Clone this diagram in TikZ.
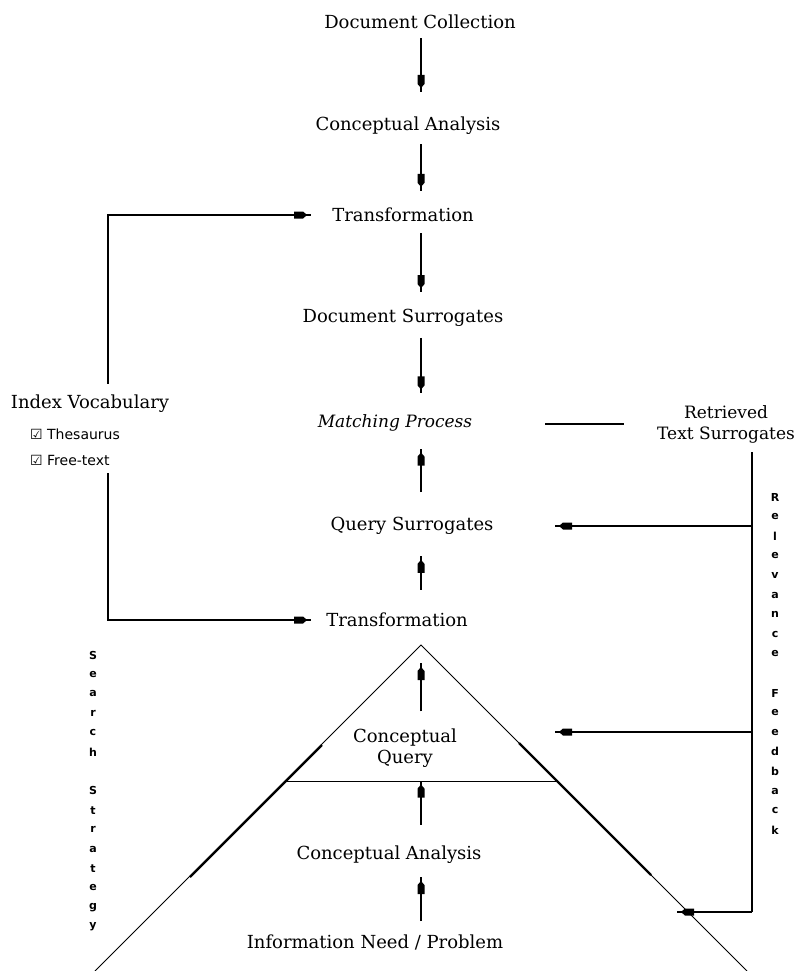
\documentclass[tikz,border=0pt]{standalone}
\usepackage{fontspec}
\setmainfont{DejaVu Serif}
\newfontfamily\lblfont{DejaVu Sans}
\usetikzlibrary{decorations.markings}

\begin{document}
\begin{tikzpicture}[x=1pt,y=-1pt]
%%%%%%%%%%%%%%%%%%%%%%%%%%%%%%%%%%%%%%%%%%%%%%%%%%%%%%%%
% STYLE
\tikzstyle{lbl}=[font=\fontsize{18}{21}\selectfont, inner sep=1pt, align=center]
\tikzstyle{ital}=[lbl, font=\fontsize{17}{21}\selectfont\itshape]
\tikzstyle{item}=[font=\lblfont\fontsize{14}{16}\selectfont, inner sep=0pt, anchor=west]
\tikzstyle{letter}=[font=\lblfont\bfseries\fontsize{11}{13}\selectfont, inner sep=0pt]

\tikzset{edge/.style={line width=1.4pt}}
\tikzset{link/.style={edge, postaction={decorate},
  decoration={markings, mark=at position -4pt with
    {\fill (-13pt,-3.5pt) -- (-4pt,-3.5pt) -- (0pt,0pt) -- (-4pt,3.5pt) -- (-13pt,3.5pt) -- cycle;}}}}
\tikzset{tri/.style={line width=0.9pt}}
\tikzset{trithick/.style={line width=2.4pt}}

\useasboundingbox (0,0) rectangle (798,971);
%%%%%%%%%%%%%%%%%%%%%%%%%%%%%%%%%%%%%%%%%%%%%%%%%%%%%%%%
% NODES
\coordinate (axis) at (421,0);
\coordinate (ivx) at (108,0);
\coordinate (fbx) at (752,0);

\node[lbl] (dc) at (420,22) {Document Collection};
\node[lbl] (ca1) at (408,126) {Conceptual Analysis};
\node[lbl] (tr1) at (403,215) {Transformation};
\node[lbl] (ds) at (403,318) {Document Surrogates};
\node[ital] (mp) at (395,423) {Matching Process};
\node[lbl] (qs) at (412,526) {Query Surrogates};
\node[lbl] (tr2) at (397,620) {Transformation};
\node[lbl] (cq) at (405,748) {Conceptual\\Query};
\node[lbl] (ca2) at (389,855) {Conceptual Analysis};
\node[lbl] (inp) at (375,942) {Information Need / Problem};

\node[lbl] (iv) at (90,404) {Index Vocabulary};
\node[item] (th) at (30,434) {☑ Thesaurus};
\node[item] (ft) at (30,460) {☑ Free-text};
\node[lbl, font=\fontsize{17}{21}\selectfont] (rts) at (726,424) {Retrieved\\Text Surrogates};

\foreach \c [count=\i] in {S,e,a,r,c,h,{},S,t,r,a,t,e,g,y}
  \node[letter] (ss\i) at (93,655+19.4*\i-19.4) {\c};
\foreach \c [count=\i] in {R,e,l,e,v,a,n,c,e,{},F,e,e,d,b,a,c,k}
  \node[letter] (rf\i) at (775,497+19.6*\i-19.6) {\c};

% triangle
\coordinate (apex) at (421,645);
\coordinate (bl) at (95,971);
\coordinate (br) at (747,971);
\coordinate (ql) at (285,781);
\coordinate (qr) at (557,781);
\coordinate (lk1) at (322,745);
\coordinate (lk2) at (190,877);
\coordinate (rk1) at (519,743);
\coordinate (rk2) at (651,875);

% feedback ends
\coordinate (fq) at (555,526);
\coordinate (fc) at (555,732);
\coordinate (fi) at (677,912);
\coordinate (fb) at (752,912);
\coordinate (ml) at (545,424);

%%%%%%%%%%%%%%%%%%%%%%%%%%%%%%%%%%%%%%%%%%%%%%%%%%%%%%%%
% LINKS
\draw[link] ([yshift=-8pt]dc.south -| axis) -- ([yshift=24pt]ca1.north -| axis);
\draw[link] ([yshift=-8pt]ca1.south -| axis) -- ([yshift=16pt]tr1.north -| axis);
\draw[link] ([yshift=-10pt]tr1.south -| axis) -- ([yshift=16pt]ds.north -| axis);
\draw[link] ([yshift=-10pt]ds.south -| axis) -- ([yshift=20pt]mp.north -| axis);

\draw[link] ([yshift=24pt]qs.north -| axis) -- ([yshift=-16pt]mp.south -| axis);
\draw[link] ([yshift=22pt]tr2.north -| axis) -- ([yshift=-20pt]qs.south -| axis);
\draw[link] ([yshift=16pt]cq.north -| axis) -- ([yshift=-18pt]apex);
\draw[link] ([yshift=20pt]ca2.north -| axis) -- ([yshift=-12pt]cq.south -| axis);
\draw[link] ([yshift=12pt]inp.north -| axis) -- ([yshift=-12pt]ca2.south -| axis);

\draw[link] ([yshift=10pt]iv.north -| ivx) |- ([xshift=-20pt]tr1.west);
\draw[link] ([yshift=-8pt]ft.south -| ivx) |- ([xshift=-14pt]tr2.west);

\draw[edge] (ml) -- ([xshift=-32pt]rts.west |- ml);
\draw[edge] ([yshift=-8pt]rts.south -| fbx) -- (fb);
\draw[link] (fq -| fbx) -- (fq);
\draw[link] (fc -| fbx) -- (fc);
\draw[link] (fb) -- (fi);

\draw[tri] (bl) -- (apex) -- (br);
\draw[tri] (ql) -- (qr);
\draw[trithick] (lk1) -- (lk2);
\draw[trithick] (rk1) -- (rk2);
\end{tikzpicture}
\end{document}
